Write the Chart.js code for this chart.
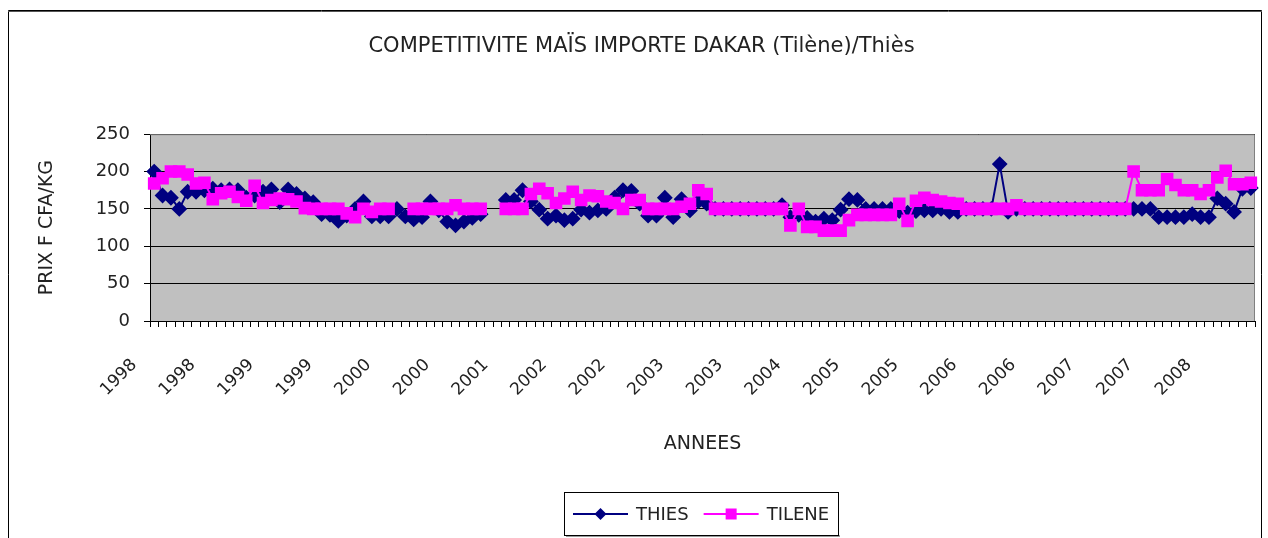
<!DOCTYPE html>
<html>
<head>
<meta charset="utf-8">
<script src="https://cdn.jsdelivr.net/npm/chart.js@4.4.1/dist/chart.umd.min.js"></script>
<style>
  html, body { margin: 0; padding: 0; background: #fff; }
  #wrap { width: 1268px; height: 538px; }
</style>
</head>
<body>
<div id="wrap"><canvas id="chart" width="1268" height="538"></canvas></div>
<script>
'use strict';

// Years of the monthly series (Jan 1998 - Dec 2008)
const years = ['1998', '1999', '2000', '2001', '2002', '2003', '2004', '2005', '2006', '2007', '2008'];

// One category per month, labelled with its year
const months = years.flatMap(y => Array(12).fill(y));

// Show one tick label every 7 months
const labelStep = 7;

// THIES prices (F CFA/kg), one row per year
const thies = [
  200, 168, 165, 150, 173, 173, 175, 177, 175, 176, 175, 165,
  168, 173, 176, 159, 176, 170, 164, 159, 143, 142, 134, 141,
  150, 160, 140, 140, 140, 150, 140, 136, 139, 160, 148, 133,
  128, 133, 138, 143, null, null, 162, 162, 175, 160, 149, 137,
  141, 135, 137, 149, 145, 148, 150, 165, 175, 174, 157, 141,
  141, 165, 139, 163, 148, 160, 157, 150, 150, 150, 150, 150,
  150, 150, 150, 155, 139, 142, 138, 133, 137, 135, 149, 163,
  162, 150, 150, 150, 150, 147, 145, 147, 148, 148, 150, 146,
  146, 150, 150, 150, 150, 210, 146, 150, 150, 150, 150, 150,
  150, 150, 150, 150, 150, 150, 150, 150, 150, 150, 150, 150,
  139, 139, 139, 139, 143, 139, 139, 164, 157, 146, 177, 178
];

// TILENE (Dakar, imported maize) prices
const tilene = [
  184, 191, 200, 200, 196, 184, 185, 163, 171, 173, 166, 161,
  181, 158, 162, 164, 163, 160, 151, 150, 150, 150, 150, 144,
  139, 150, 146, 150, 150, null, null, 150, 150, 150, 150, 150,
  155, 150, 150, 150, null, null, 150, 150, 150, 170, 177, 171,
  158, 164, 173, 162, 168, 167, 160, 158, 150, 162, 162, 150,
  150, 150, 150, 153, 157, 175, 170, 150, 150, 150, 150, 150,
  150, 150, 150, 150, 128, 150, 126, 126, 121, 121, 121, 135,
  142, 142, 142, 142, 142, 157, 134, 161, 165, 162, 160, 158,
  157, 150, 150, 150, 150, 150, 150, 155, 150, 150, 150, 150,
  150, 150, 150, 150, 150, 150, 150, 150, 150, 200, 175, 175,
  175, 190, 182, 175, 175, 170, 175, 192, 201, 183, 183, 185
];

const FONT = "'DejaVu Sans', sans-serif";
const TEXT = '#222';

Chart.defaults.font.family = FONT;
Chart.defaults.color = TEXT;

// White page, outer frame and grey plot area (Excel look)
const frame = {
  id: 'frame',
  beforeDraw(chart) {
    const { ctx, chartArea: a } = chart;
    ctx.save();
    ctx.fillStyle = '#fff';
    ctx.fillRect(0, 0, chart.width, chart.height);
    ctx.strokeStyle = '#000';
    ctx.lineWidth = 1;
    ctx.beginPath();
    ctx.moveTo(8.5, 560);
    ctx.lineTo(8.5, 10.5);
    ctx.lineTo(1261.5, 10.5);
    ctx.lineTo(1261.5, 560);
    ctx.stroke();
    ctx.strokeStyle = '#555';
    ctx.beginPath();
    ctx.moveTo(8, 11.5);
    ctx.lineTo(1262, 11.5);
    ctx.stroke();
    ctx.fillStyle = '#c0c0c0';
    ctx.fillRect(a.left, a.top, a.right - a.left, a.bottom - a.top);
    ctx.restore();
  },
  beforeDatasetsDraw(chart) {
    const { ctx, chartArea: a } = chart;
    ctx.save();
    ctx.strokeStyle = '#808080';
    ctx.lineWidth = 1;
    ctx.beginPath();
    ctx.moveTo(a.left, a.top + 0.5);
    ctx.lineTo(a.right - 0.5, a.top + 0.5);
    ctx.lineTo(a.right - 0.5, a.bottom);
    ctx.stroke();
    ctx.restore();
  }
};

// Legend box with line + marker samples, centred under the plot
const excelLegend = {
  id: 'excelLegend',
  afterDraw(chart) {
    const { ctx } = chart;
    const box = { x: 564, y: 492, w: 274, h: 43 };
    ctx.save();
    ctx.fillStyle = '#999';
    ctx.fillRect(box.x + 2, box.y + box.h, box.w, 2);
    ctx.fillStyle = '#fff';
    ctx.fillRect(box.x, box.y, box.w, box.h);
    ctx.strokeStyle = '#000';
    ctx.lineWidth = 1;
    ctx.strokeRect(box.x + 0.5, box.y + 0.5, box.w, box.h);

    ctx.font = '18px ' + FONT;
    ctx.textBaseline = 'middle';
    let x = 573;
    const cy = box.y + 22;
    chart.data.datasets.forEach(ds => {
      ctx.strokeStyle = ds.borderColor;
      ctx.lineWidth = 2;
      ctx.beginPath();
      ctx.moveTo(x, cy);
      ctx.lineTo(x + 55, cy);
      ctx.stroke();
      const mx = x + 27.5;
      ctx.fillStyle = ds.borderColor;
      ctx.beginPath();
      if (ds.pointStyle === 'rectRot') {
        ctx.moveTo(mx - 6, cy);
        ctx.lineTo(mx, cy - 6);
        ctx.lineTo(mx + 6, cy);
        ctx.lineTo(mx, cy + 6);
        ctx.closePath();
      } else {
        ctx.rect(mx - 5.5, cy - 5.5, 11, 11);
      }
      ctx.fill();
      ctx.fillStyle = TEXT;
      ctx.fillText(ds.label, x + 63, cy + 1);
      x += 63 + ctx.measureText(ds.label).width + 15;
    });
    ctx.restore();
  }
};

const configuration = {
  type: 'line',
  data: {
    labels: months,
    datasets: [
      {
        label: 'THIES',
        data: thies,
        order: 1,
        borderColor: '#000080',
        backgroundColor: '#000080',
        pointBackgroundColor: '#000080',
        pointBorderColor: '#000080',
        pointStyle: 'rectRot',
        pointRadius: 6.5,
        borderWidth: 2,
        tension: 0,
        spanGaps: false
      },
      {
        label: 'TILENE',
        data: tilene,
        order: 0,
        borderColor: '#ff00ff',
        backgroundColor: '#ff00ff',
        pointBackgroundColor: '#ff00ff',
        pointBorderColor: '#ff00ff',
        pointStyle: 'rect',
        pointRadius: 7.5,
        borderWidth: 2,
        tension: 0,
        spanGaps: false
      }
    ]
  },
  options: {
    responsive: false,
    animation: false,
    devicePixelRatio: 1,
    layout: {
      padding: { left: 28, right: 13, top: 0, bottom: 83 }
    },
    plugins: {
      legend: { display: false },
      tooltip: { enabled: false },
      title: {
        display: true,
        text: 'COMPETITIVITE MAÏS IMPORTE DAKAR (Tilène)/Thiès',
        color: TEXT,
        font: { family: FONT, size: 21, weight: 'normal' },
        padding: { top: 34, bottom: 75 }
      }
    },
    scales: {
      x: {
        type: 'category',
        offset: true,
        grid: {
          offset: true,
          drawOnChartArea: false,
          drawTicks: true,
          tickLength: 6,
          color: '#000',
          tickColor: '#000'
        },
        border: { display: true, color: '#000', width: 1 },
        ticks: {
          autoSkip: false,
          minRotation: 45,
          maxRotation: 45,
          labelOffset: -20,
          padding: 28,
          color: TEXT,
          font: { family: FONT, size: 17 },
          callback: function (value, index) {
            return index % labelStep === 0 ? this.getLabelForValue(value) : '';
          }
        },
        title: {
          display: true,
          text: 'ANNEES',
          color: TEXT,
          font: { family: FONT, size: 19 },
          padding: { top: 12, bottom: 0 }
        },
        afterFit(scale) {
          scale.height = 134;
          scale.paddingRight = 0;
        }
      },
      y: {
        min: 0,
        max: 250,
        ticks: {
          stepSize: 50,
          padding: 14,
          color: TEXT,
          font: { family: FONT, size: 18 }
        },
        grid: { color: '#000', tickColor: '#000', tickLength: 6, lineWidth: 1 },
        border: { display: true, color: '#000', width: 1 },
        title: {
          display: true,
          text: 'PRIX F CFA/KG',
          color: TEXT,
          font: { family: FONT, size: 19 },
          padding: { top: 8, bottom: 0 }
        },
        afterFit(scale) {
          scale.width = 122;
        }
      }
    }
  },
  plugins: [frame, excelLegend]
};

new Chart(document.getElementById('chart'), configuration);
</script>
</body>
</html>
